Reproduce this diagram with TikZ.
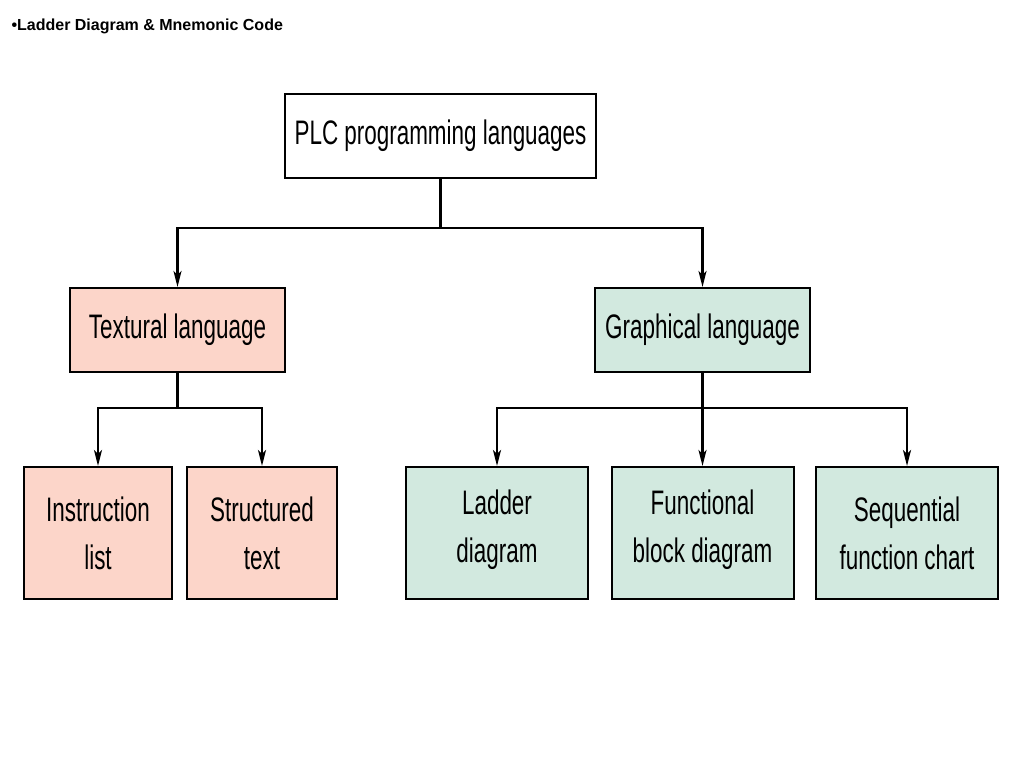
\documentclass[tikz,border=0pt]{standalone}
\usepackage{fontspec}
\setmainfont{Liberation Sans}
\newfontfamily\boxfont[FakeStretch=0.66]{Liberation Sans}
\usetikzlibrary{arrows.meta,calc}
\definecolor{textpink}{HTML}{FCD5C9}
\definecolor{graphgreen}{HTML}{D2E9DF}
\begin{document}
\begin{tikzpicture}[
  x=1pt, y=-1pt,
  box/.style={draw, line width=2pt, inner sep=0pt, align=center,
    font=\boxfont\fontsize{34}{48}\selectfont},
  link/.style={line width=2.2pt},
  arr/.style={link, -{Stealth[length=16pt,width=8pt,inset=4pt]}}
]
\useasboundingbox (0,0) rectangle (1024,768);

% Title
\node[anchor=west, font=\bfseries\fontsize{16}{18}\selectfont] (title) at (8,26) {•Ladder Diagram \& Mnemonic Code};

% Root node
\node[box, minimum width=311pt, minimum height=84pt] (root) at (440.5,136) {PLC programming languages};

% Language families
\node[box, fill=textpink, minimum width=215pt, minimum height=84pt] (text) at (177.5,330) {Textural language};
\node[box, fill=graphgreen, minimum width=215pt, minimum height=84pt] (graph) at (702.5,330) {Graphical language};

% Leaves
\node[box, fill=textpink, minimum width=148pt, minimum height=132pt] (il) at (98,533) {Instruction\\list};
\node[box, fill=textpink, minimum width=150pt, minimum height=132pt] (st) at (262,533) {Structured\\text};
\node[box, fill=graphgreen, minimum width=182pt, minimum height=132pt] (ld) at (497,533) {Ladder\\diagram\strut};
\node[box, fill=graphgreen, minimum width=182pt, minimum height=132pt] (fbd) at (702.5,533) {Functional\\block diagram\strut};
\node[box, fill=graphgreen, minimum width=182pt, minimum height=132pt] (sfc) at (907,533) {Sequential\\function chart};

% Bus coordinates
\coordinate (top) at (440.5,228);
\coordinate (lbus) at (177.5,408);
\coordinate (rbus) at (702.5,408);

% Connectors
\draw[link] (root.south) -- (top);
\draw[arr] (top) -| (text.north);
\draw[arr] (top) -| (graph.north);
\draw[link] (text.south) -- (lbus);
\draw[arr] (lbus) -| (il.north);
\draw[arr] (lbus) -| (st.north);
\draw[link] (graph.south) -- (rbus);
\draw[arr] (rbus) -| (ld.north);
\draw[arr] (rbus) -- (fbd.north);
\draw[arr] (rbus) -| (sfc.north);
\end{tikzpicture}
\end{document}
